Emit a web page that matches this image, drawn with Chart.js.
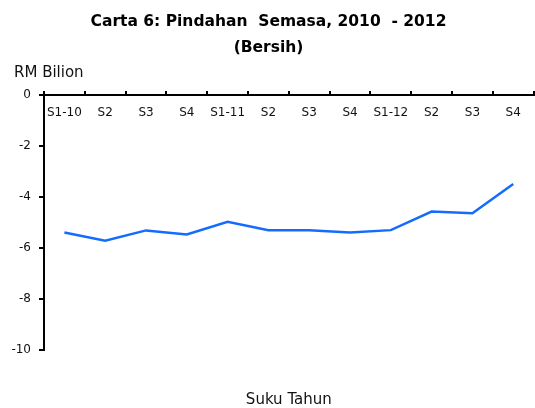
<!DOCTYPE html>
<html>
<head>
<meta charset="utf-8">
<script src="https://cdn.jsdelivr.net/npm/chart.js@4.4.1/dist/chart.umd.min.js"></script>
<style>
  html, body { margin: 0; padding: 0; background: #fff; overflow: hidden; }
  /* the original is cropped a couple of pixels past its last category */
  #wrap { width: 537px; height: 408px; position: relative; }
</style>
</head>
<body>
<div id="wrap"><canvas id="pindahanChart"></canvas></div>
<script>
const quarters = ['S1-10', 'S2', 'S3', 'S4', 'S1-11', 'S2', 'S3', 'S4', 'S1-12', 'S2', 'S3', 'S4'];
const netTransfers = [-5.40, -5.73, -5.32, -5.48, -4.98, -5.31, -5.31, -5.40, -5.31, -4.58, -4.65, -3.50];
const yTicks = [0, -2, -4, -6, -8, -10];

const fontFamily = '"DejaVu Sans", sans-serif';

// "RM Bilion" sits above the y axis, not rotated
const unitLabel = {
  id: 'unitLabel',
  afterDraw(chart) {
    const { ctx, chartArea } = chart;
    ctx.save();
    ctx.font = '15px ' + fontFamily;
    ctx.fillStyle = '#111';
    ctx.textAlign = 'left';
    ctx.textBaseline = 'middle';
    ctx.fillText('RM Bilion', chartArea.left - 30, chartArea.top - 22);
    ctx.restore();
  }
};

new Chart(document.getElementById('pindahanChart'), {
  type: 'line',
  data: {
    labels: quarters,
    datasets: [{
      data: netTransfers,
      borderColor: '#146cff',
      borderWidth: 2.5,
      pointRadius: 0,
      tension: 0,
      fill: false
    }]
  },
  options: {
    responsive: true,
    maintainAspectRatio: false,
    animation: false,
    layout: { padding: 0 },
    plugins: {
      legend: { display: false },
      tooltip: { enabled: false },
      title: {
        display: true,
        text: ['Carta 6: Pindahan  Semasa, 2010  - 2012', '(Bersih)'],
        color: '#000',
        font: { family: fontFamily, size: 15.5, weight: 'bold', lineHeight: 26 / 15.5 },
        padding: { top: 9, bottom: 34 }
      },
      subtitle: {
        display: true,
        position: 'bottom',
        fullSize: false,
        text: 'Suku Tahun',
        color: '#111',
        font: { family: fontFamily, size: 15, lineHeight: 1 },
        padding: { top: 43.5, bottom: 0 }
      }
    },
    scales: {
      x: {
        position: { y: 0 },
        offset: true,
        grid: { display: true, offset: true, drawOnChartArea: false, drawTicks: true, tickLength: -5, color: '#000', lineWidth: 2 },
        border: { display: true, color: '#000', width: 2 },
        ticks: { color: '#111', font: { family: fontFamily, size: 12 }, padding: 16, maxRotation: 0, autoSkip: false }
      },
      y: {
        min: -10,
        max: 0,
        afterFit(scale) { scale.width = 44; },
        afterBuildTicks(scale) { scale.ticks = yTicks.map(v => ({ value: v })); },
        grid: { drawOnChartArea: false, drawTicks: true, tickLength: 5, color: '#000', lineWidth: 2 },
        border: { display: true, color: '#000', width: 2 },
        ticks: { color: '#111', font: { family: fontFamily, size: 12 }, padding: 8 }
      }
    }
  },
  plugins: [unitLabel]
});
</script>
</body>
</html>
